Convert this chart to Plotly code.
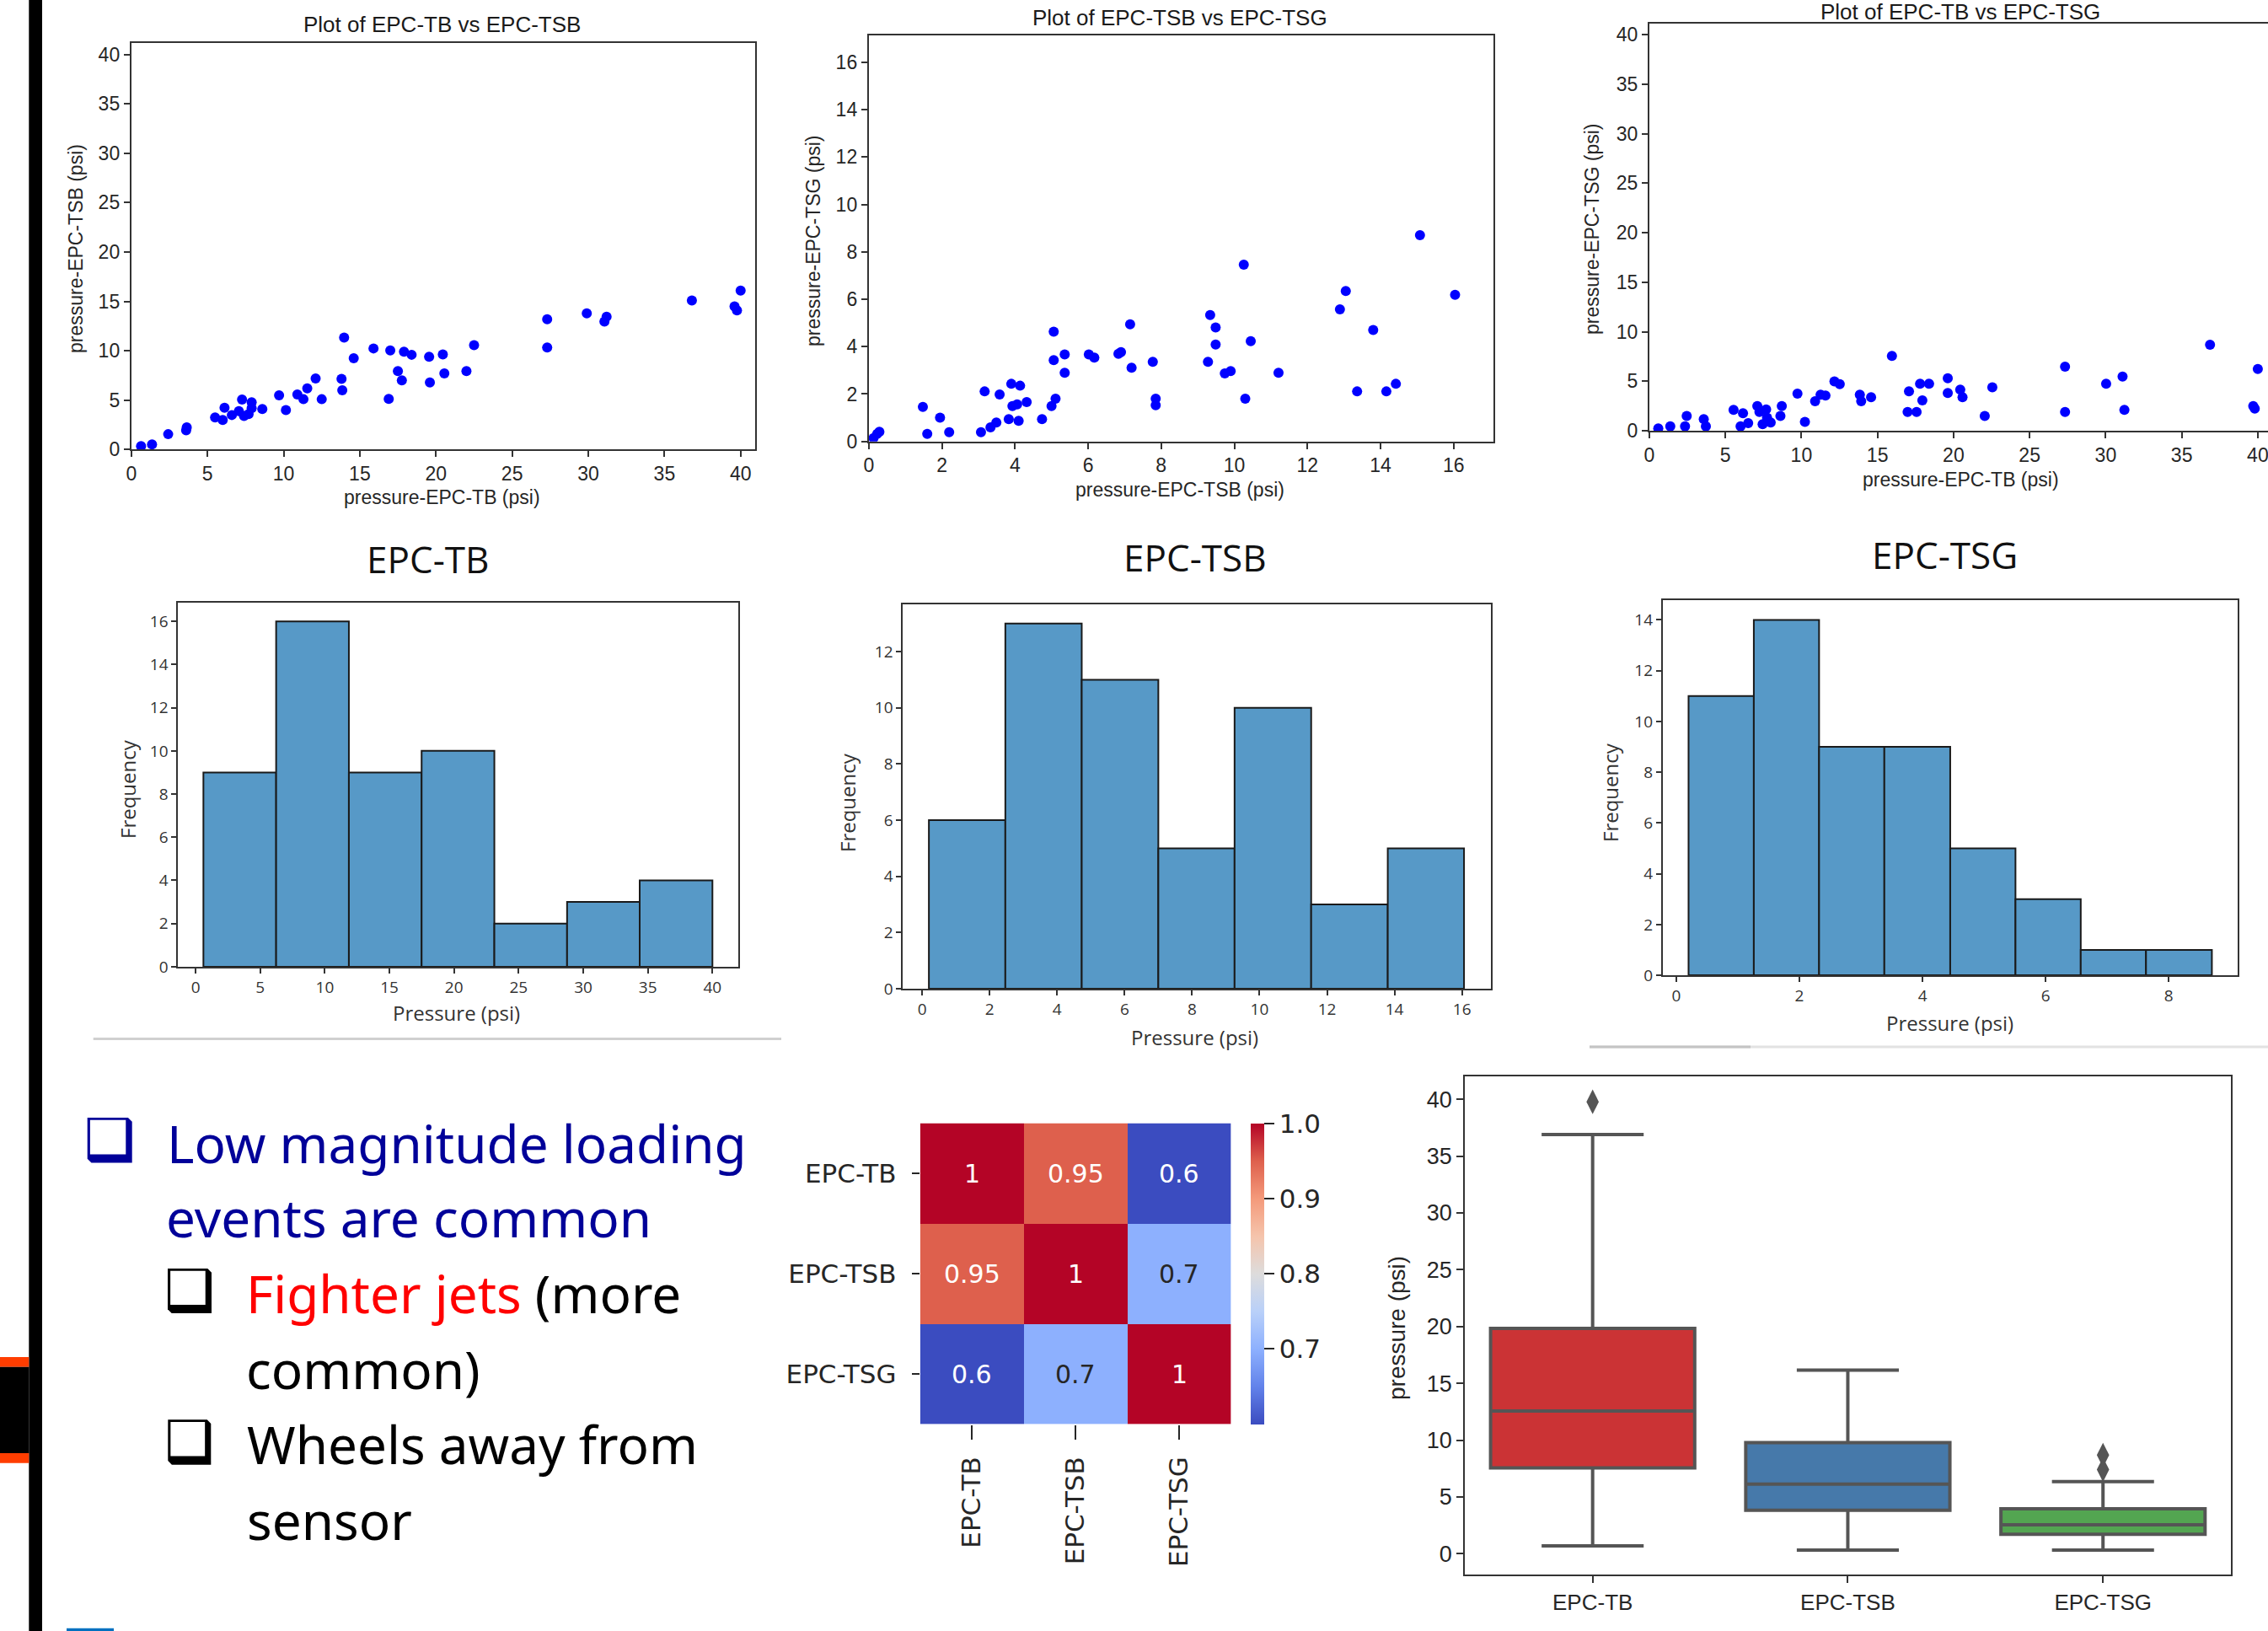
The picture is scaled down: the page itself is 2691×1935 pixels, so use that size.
import plotly.graph_objects as go

W, H = 2691, 1935

# ---------------- data ----------------
tb_vs_tsb_x = [0.64, 1.36, 2.42, 3.64, 3.6, 5.5, 6.0, 6.12, 6.6, 7.27, 7.06, 7.4, 7.7, 7.9, 7.9,
               8.6, 9.7, 10.15, 10.9, 11.3, 11.55, 12.1, 12.5, 13.8, 13.85, 13.97, 14.6, 15.9,
               16.9, 17.0, 17.5, 17.76, 17.9, 18.4, 19.55, 19.6, 20.45, 20.55, 22.0, 22.5,
               27.3, 27.3, 29.9, 31.06, 31.2, 36.8, 39.6, 39.76, 40.0]
tb_vs_tsb_y = [0.36, 0.53, 1.56, 2.25, 1.95, 3.25, 3.0, 4.24, 3.5, 5.07, 3.9, 3.4, 3.6, 4.8, 4.2,
               4.1, 5.5, 4.0, 5.57, 5.1, 6.2, 7.2, 5.1, 7.16, 6.0, 11.33, 9.25, 10.24,
               5.14, 10.04, 7.95, 7.0, 9.9, 9.6, 9.4, 6.8, 9.64, 7.72, 7.95, 10.57,
               13.19, 10.34, 13.79, 12.96, 13.45, 15.1, 14.5, 14.1, 16.1]

tsb_vs_tsg_x = [0.13, 0.23, 0.29, 1.48, 1.6, 1.95, 2.2, 3.07, 3.17, 3.33, 3.49, 3.58, 3.83, 3.9,
                3.93, 4.06, 4.1, 4.14, 4.32, 4.74, 5.0, 5.06, 5.06, 5.11, 5.36, 5.36, 6.02, 6.17,
                6.83, 6.9, 7.15, 7.19, 7.77, 7.85, 7.85, 9.28, 9.34, 9.49, 9.49, 9.74, 9.9,
                10.26, 10.3, 10.45, 11.21, 12.89, 13.05, 13.36, 13.8, 14.16, 14.42, 15.08, 16.04]
tsb_vs_tsg_y = [0.14, 0.32, 0.41, 1.46, 0.32, 1.0, 0.39, 0.39, 2.11, 0.59, 0.8, 1.98, 0.94, 2.43,
                1.49, 1.56, 0.87, 2.35, 1.66, 0.94, 1.49, 4.63, 3.43, 1.8, 3.67, 2.9, 3.67, 3.54,
                3.7, 3.77, 4.94, 3.11, 3.36, 1.8, 1.53, 3.36, 5.33, 4.81, 4.09, 2.87, 2.97,
                7.46, 1.8, 4.23, 2.9, 5.57, 6.35, 2.11, 4.7, 2.11, 2.43, 8.7, 6.19]

tb_vs_tsg_x = [0.59, 1.38, 2.35, 2.46, 3.58, 3.72, 5.54, 6.0, 6.16, 6.5, 7.1, 7.24, 7.45, 7.68,
               7.74, 7.98, 8.62, 8.71, 9.74, 10.23, 10.9, 11.26, 11.58, 12.17, 12.52, 13.84,
               13.93, 14.58, 15.95, 16.98, 17.07, 17.57, 17.8, 17.95, 18.39, 19.62, 19.62,
               20.44, 20.59, 22.05, 22.55, 27.33, 27.33, 30.03, 31.11, 31.23, 36.86, 39.7,
               39.8, 40.0]
tb_vs_tsg_y = [0.23, 0.43, 0.43, 1.49, 1.16, 0.43, 2.09, 0.43, 1.75, 0.76, 2.48, 1.89, 0.66, 2.15,
               1.32, 0.83, 1.49, 2.48, 3.74, 0.89, 2.98, 3.64, 3.54, 4.97, 4.7, 3.64,
               2.98, 3.38, 7.55, 1.89, 3.97, 1.89, 4.74, 3.05, 4.74, 5.3, 3.81,
               4.14, 3.38, 1.49, 4.37, 6.46, 1.89, 4.74, 5.46, 2.09, 8.68, 2.48,
               2.22, 6.23]

hist_tb_edges = [0.6, 6.23, 11.86, 17.49, 23.12, 28.75, 34.37, 40.0]
hist_tb_counts = [9, 16, 9, 10, 2, 3, 4]
hist_tsb_edges = [0.2, 2.466, 4.73, 7.0, 9.26, 11.53, 13.8, 16.06]
hist_tsb_counts = [6, 13, 11, 5, 10, 3, 5]
hist_tsg_edges = [0.2, 1.26, 2.32, 3.38, 4.45, 5.51, 6.57, 7.63, 8.70]
hist_tsg_counts = [11, 14, 9, 9, 5, 3, 1, 1]

sensors = ['EPC-TB', 'EPC-TSB', 'EPC-TSG']
corr = [[1.0, 0.95, 0.6],
        [0.95, 1.0, 0.7],
        [0.6, 0.7, 1.0]]

box_q1 = [7.56, 3.83, 1.72]
box_median = [12.57, 6.12, 2.55]
box_q3 = [19.84, 9.79, 3.96]
box_low = [0.70, 0.32, 0.32]
box_high = [36.9, 16.17, 6.35]
box_colors = ['#cb3335', '#4679aa', '#53a551']
outlier_cat = ['EPC-TB', 'EPC-TSG', 'EPC-TSG']
outlier_val = [39.78, 8.68, 7.4]

coolwarm = [[0.0, '#3b4cc0'], [0.125, '#6282ea'], [0.25, '#8db0fe'], [0.375, '#b9d0f9'],
            [0.5, '#dddcdc'], [0.625, '#f5c4ac'], [0.75, '#f49a7b'], [0.875, '#de604d'],
            [1.0, '#b40426']]
ZMIN, ZMAX = 0.6, 1.0


# ---------------- helpers ----------------
def fx(px):
    return px / W


def fy(py):
    return 1 - py / H


def dom_x(l, r):
    return [fx(l), fx(r)]


def dom_y(t, b):
    return [fy(b), fy(t)]


def axis(domain, rng, dtick, anchor, font, ticklen=7, mirror=True, **kw):
    d = dict(domain=domain, range=rng, dtick=dtick, tick0=0, anchor=anchor,
             showgrid=False, zeroline=False, showline=True, linecolor='#333333',
             linewidth=2, mirror=mirror, ticks='outside', ticklen=ticklen,
             tickwidth=2, tickcolor='#333333', tickfont=font, fixedrange=True)
    d.update(kw)
    return d


def hex2rgb(h):
    h = h.lstrip('#')
    return [int(h[i:i + 2], 16) for i in (0, 2, 4)]


def cmap(v):
    t = (v - ZMIN) / (ZMAX - ZMIN)
    t = min(max(t, 0), 1)
    for (t0, c0), (t1, c1) in zip(coolwarm[:-1], coolwarm[1:]):
        if t0 <= t <= t1:
            a = (t - t0) / (t1 - t0) if t1 > t0 else 0
            r0, r1 = hex2rgb(c0), hex2rgb(c1)
            return [r0[k] + a * (r1[k] - r0[k]) for k in range(3)]
    return hex2rgb(coolwarm[-1][1])


def luminance(rgb):
    out = []
    for c in rgb:
        c = c / 255
        out.append(c / 12.92 if c <= 0.03928 else ((c + 0.055) / 1.055) ** 2.4)
    return 0.2126 * out[0] + 0.7152 * out[1] + 0.0722 * out[2]


sfont = dict(family='Liberation Sans', size=23, color='#262626')
hfont = dict(family='Open Sans', size=19, color='#333333')
bfont = dict(family='Liberation Sans', size=27, color='#262626')
dvfont = dict(family='DejaVu Sans', size=31, color='#262626')

fig = go.Figure()

# ---------------- scatter plots ----------------
for xs, ys, ax in [(tb_vs_tsb_x, tb_vs_tsb_y, ''), (tsb_vs_tsg_x, tsb_vs_tsg_y, '2'),
                   (tb_vs_tsg_x, tb_vs_tsg_y, '3')]:
    fig.add_trace(go.Scatter(x=xs, y=ys, mode='markers', xaxis='x' + ax, yaxis='y' + ax,
                             marker=dict(color='#0000ff', size=12, line=dict(width=0)),
                             showlegend=False, hoverinfo='skip'))

# ---------------- histograms ----------------
for edges, counts, ax in [(hist_tb_edges, hist_tb_counts, '4'),
                          (hist_tsb_edges, hist_tsb_counts, '5'),
                          (hist_tsg_edges, hist_tsg_counts, '6')]:
    centers = [(edges[i] + edges[i + 1]) / 2 for i in range(len(counts))]
    widths = [edges[i + 1] - edges[i] for i in range(len(counts))]
    fig.add_trace(go.Bar(x=centers, y=counts, width=widths, xaxis='x' + ax, yaxis='y' + ax,
                         marker=dict(color='#5799c7', line=dict(color='#1a1a1a', width=2)),
                         showlegend=False, hoverinfo='skip'))

# ---------------- heatmap ----------------
fig.add_trace(go.Heatmap(
    z=corr, x=sensors, y=sensors, xaxis='x7', yaxis='y7', zmin=ZMIN, zmax=ZMAX,
    colorscale=coolwarm, showscale=True, hoverinfo='skip',
    colorbar=dict(x=fx(1483.5), xanchor='left', y=fy(1511.2), yanchor='middle',
                  len=357.3, lenmode='pixels', thickness=16, thicknessmode='pixels',
                  outlinewidth=0, xpad=0, ypad=0, ticks='outside', ticklen=12,
                  tickwidth=2, tickcolor='#262626', tickvals=[0.7, 0.8, 0.9, 1.0],
                  tickformat='.1f', tickfont=dvfont)))

# ---------------- box plot ----------------
for i, cat in enumerate(sensors):
    fig.add_trace(go.Box(x=[cat], q1=[box_q1[i]], median=[box_median[i]], q3=[box_q3[i]],
                         lowerfence=[box_low[i]], upperfence=[box_high[i]],
                         xaxis='x8', yaxis='y8', fillcolor=box_colors[i],
                         line=dict(color='#555555', width=4), width=0.8,
                         whiskerwidth=0.5, boxpoints=False, showlegend=False,
                         hoverinfo='skip'))
fig.add_trace(go.Scatter(x=outlier_cat, y=outlier_val, mode='markers', xaxis='x8', yaxis='y8',
                         marker=dict(symbol='diamond-tall', size=21, color='#555555'),
                         showlegend=False, hoverinfo='skip'))

# ---------------- annotations ----------------
ann = []


def text(x, y, s, font, xanchor='center', yanchor='middle', angle=0):
    ann.append(dict(x=fx(x), y=fy(y), xref='paper', yref='paper', text=s, showarrow=False,
                    font=font, xanchor=xanchor, yanchor=yanchor, textangle=angle))


tfont = dict(family='Liberation Sans', size=26, color='#1a1a1a')
lfont = dict(family='Liberation Sans', size=23, color='#262626')
text(524, 29, 'Plot of EPC-TB vs EPC-TSB', tfont)
text(1400, 21, 'Plot of EPC-TSB vs EPC-TSG', tfont)
text(2326, 14, 'Plot of EPC-TB vs EPC-TSG', tfont)
text(524, 590, 'pressure-EPC-TB (psi)', lfont)
text(90, 295, 'pressure-EPC-TSB (psi)', lfont, angle=-90)
text(1400, 581, 'pressure-EPC-TSB (psi)', lfont)
text(965, 286, 'pressure-EPC-TSG (psi)', lfont, angle=-90)
text(2326, 569, 'pressure-EPC-TB (psi)', lfont)
text(1889, 272, 'pressure-EPC-TSG (psi)', lfont, angle=-90)

htfont = dict(family='Open Sans', size=44, color='#111111')
hlfont = dict(family='Open Sans', size=24, color='#333333')
for cx, ty, fxp, fyp, px_, py_, name in [(507, 663, 151, 936, 541, 1201, 'EPC-TB'),
                                          (1418, 661, 1006, 952, 1418, 1230, 'EPC-TSB'),
                                          (2307, 658, 1910, 940, 2313, 1213, 'EPC-TSG')]:
    text(cx, ty, name, htfont)
    text(fxp, fyp, 'Frequency', hlfont, angle=-90)
    text(px_, py_, 'Pressure (psi)', hlfont)

text(1657, 1576, 'pressure (psi)', dict(family='Liberation Sans', size=28, color='#262626'),
     angle=-90)

# heatmap cell labels
for i, row in enumerate(corr):
    for j, v in enumerate(row):
        col = '#ffffff' if luminance(cmap(v)) < 0.408 else '#262626'
        ann.append(dict(x=sensors[j], y=sensors[i], xref='x7', yref='y7',
                        text=format(v, '.2g'), showarrow=False,
                        font=dict(family='DejaVu Sans', size=30, color=col)))

# bullet text
bf = 'Noto Sans'
navy = '#000099'
text(196, 1355.6, 'Low magnitude loading', dict(family=bf, size=62, color=navy), xanchor='left')
text(195, 1444, 'events are common', dict(family=bf, size=62, color=navy), xanchor='left')
text(290, 1533.6, "<span style='color:#ff0000'>Fighter jets</span> (more",
     dict(family=bf, size=62, color='#000000'), xanchor='left')
text(290, 1624, 'common)', dict(family=bf, size=62, color='#000000'), xanchor='left')
text(291, 1712.5, 'Wheels away from', dict(family=bf, size=62, color='#000000'), xanchor='left')
text(291, 1802.8, 'sensor', dict(family=bf, size=62, color='#000000'), xanchor='left')

# ---------------- decorative shapes ----------------
shapes = []


def rect(x0, y0, x1, y1, color):
    shapes.append(dict(type='rect', xref='paper', yref='paper', x0=fx(x0), x1=fx(x1),
                       y0=fy(y1), y1=fy(y0), fillcolor=color, line=dict(width=0),
                       layer='above'))


def hline(x0, x1, y, color, width):
    shapes.append(dict(type='line', xref='paper', yref='paper', x0=fx(x0), x1=fx(x1),
                       y0=fy(y), y1=fy(y), line=dict(color=color, width=width)))


def checkbox(x0, y0, w, h, color):
    c = 0.09 * w
    pts = [(x0, y0), (x0 + w - c, y0), (x0 + w, y0 + c), (x0 + w, y0 + h),
           (x0 + c, y0 + h), (x0, y0 + h - c)]
    path = 'M ' + ' L '.join(f'{fx(px):.5f},{fy(py):.5f}' for px, py in pts) + ' Z'
    shapes.append(dict(type='path', xref='paper', yref='paper', path=path,
                       fillcolor=color, line=dict(width=0), layer='above'))
    rect(x0 + 0.06 * w, y0 + 0.05 * h, x0 + 0.86 * w, y0 + 0.81 * h, '#ffffff')


rect(34.3, 0, 50, H, '#000000')
rect(0, 1610, 34.3, 1621.7, '#ff3d00')
rect(0, 1621.7, 34.3, 1724, '#000000')
rect(0, 1724, 34.3, 1735.7, '#ff3d00')
rect(79, 1931.7, 135, H, '#0070c0')
hline(110.7, 927, 1232.5, '#d0d0d0', 3)
hline(1886, 2691, 1242, '#e2e2e2', 3)
hline(1886, 2077, 1242, '#c4c4c4', 3)
checkbox(103.7, 1326, 53, 53.6, navy)
checkbox(199, 1505, 52, 53, '#000000')
checkbox(199.3, 1684.3, 51, 53.4, '#000000')

# ---------------- layout ----------------
layout = dict(
    width=W, height=H, margin=dict(l=0, r=0, t=0, b=0), template='none',
    paper_bgcolor='#ffffff', plot_bgcolor='#ffffff', showlegend=False, boxmode='overlay',
    annotations=ann, shapes=shapes,
    xaxis=axis(dom_x(155.8, 896.3), [0, 40.97], 5, 'y', sfont),
    yaxis=axis(dom_y(50.5, 533.4), [0, 41.2], 5, 'x', sfont),
    xaxis2=axis(dom_x(1030.8, 1772), [0, 17.09], 2, 'y2', sfont),
    yaxis2=axis(dom_y(42, 523.7), [0, 17.13], 2, 'x2', sfont),
    xaxis3=axis(dom_x(1956.9, 2691), [0, 40.67], 5, 'y3', sfont, ticklabeloverflow='allow'),
    yaxis3=axis(dom_y(28.4, 510.9), [0, 41.1], 5, 'x3', sfont, mirror=False),
    xaxis4=axis(dom_x(211.3, 875.8), [-1.36, 41.99], 5, 'y4', hfont, ticklen=6),
    yaxis4=axis(dom_y(715.2, 1146.9), [0, 16.86], 2, 'x4', hfont, ticklen=6),
    xaxis5=axis(dom_x(1071.3, 1769.1), [-0.57, 16.86], 2, 'y5', hfont, ticklen=6),
    yaxis5=axis(dom_y(717.2, 1173), [0, 13.68], 2, 'x5', hfont, ticklen=6),
    xaxis6=axis(dom_x(1972.8, 2655.1), [-0.22, 9.12], 2, 'y6', hfont, ticklen=6),
    yaxis6=axis(dom_y(711.9, 1157.1), [0, 14.78], 2, 'x6', hfont, ticklen=6),
    xaxis7=dict(domain=dom_x(1091.7, 1460.5), anchor='y7', type='category',
                categoryorder='array', categoryarray=sensors, range=[-0.5, 2.5],
                showgrid=False, zeroline=False, showline=False, ticks='outside',
                ticklen=17, tickwidth=2, tickcolor='#262626', tickangle=-90,
                tickfont=dvfont, ticklabelstandoff=8, fixedrange=True),
    yaxis7=dict(domain=dom_y(1332.5, 1689.8), anchor='x7', type='category',
                categoryorder='array', categoryarray=sensors, range=[2.5, -0.5],
                showgrid=False, zeroline=False, showline=False, ticks='outside',
                ticklen=9, tickwidth=2, tickcolor='#262626', tickfont=dvfont,
                ticklabelstandoff=12, fixedrange=True),
    xaxis8=dict(domain=dom_x(1738.3, 2646.6), anchor='y8', type='category',
                categoryorder='array', categoryarray=sensors, range=[-0.5, 2.5],
                showgrid=False, zeroline=False, showline=True, mirror=True,
                linecolor='#333333', linewidth=2, ticks='outside', ticklen=8,
                tickwidth=2, tickcolor='#333333',
                tickfont=dict(family='Liberation Sans', size=26, color='#262626'),
                fixedrange=True),
    yaxis8=axis(dom_y(1277.2, 1868.3), [-1.85, 42.0], 5, 'x8', bfont, ticklen=8),
)
fig.update_layout(**layout)

fig.write_html('out.html', config={'displayModeBar': False},
               post_script="document.body.style.margin='0';document.body.style.overflow='hidden';")
